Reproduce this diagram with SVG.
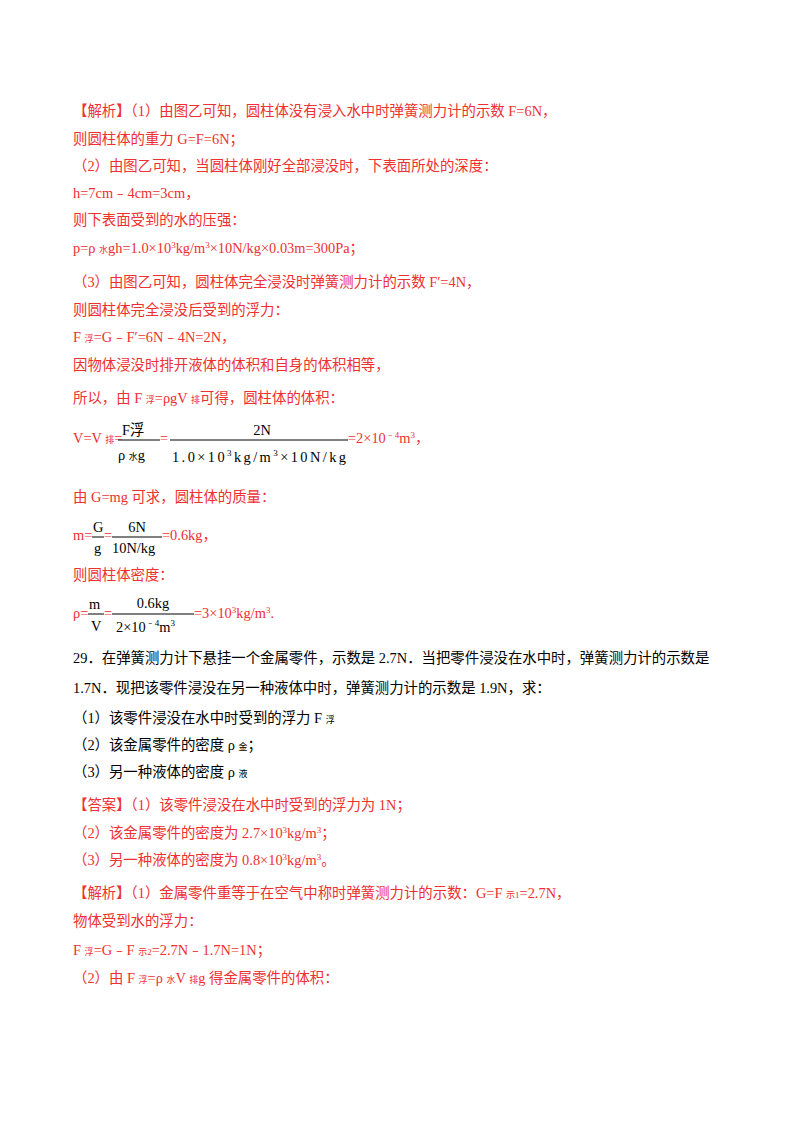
<svg xmlns="http://www.w3.org/2000/svg" width="800" height="1132" viewBox="0 0 800 1132">
<style>
text{font-family:"Liberation Serif","Noto Sans CJK SC",serif;font-size:14.4px}
.r{fill:#ee3030}
.k{fill:#000}
.s{font-size:9px}
.fl{stroke:#000;stroke-width:1}
</style>
<rect width="800" height="1132" fill="#fff"/>
<g id="text">
<text class="r" x="73" y="116">【解析】（1）由图乙可知，圆柱体没有浸入水中时弹簧测力计的示数 F=6N，</text>
<text class="r" x="73" y="144">则圆柱体的重力 G=F=6N；</text>
<text class="r" x="73" y="171">（2）由图乙可知，当圆柱体刚好全部浸没时，下表面所处的深度：</text>
<text class="r" x="73" y="198">h=7cm﹣4cm=3cm，</text>
<text class="r" x="73" y="225">则下表面受到的水的压强：</text>
<text class="r" x="73" y="253">p=ρ <tspan class="s">水</tspan>gh=1.0×10<tspan class="s" dy="-5">3</tspan><tspan dy="5">kg/m</tspan><tspan class="s" dy="-5">3</tspan><tspan dy="5">×10N/kg×0.03m=300Pa；</tspan></text>
<text class="r" x="73" y="287">（3）由图乙可知，圆柱体完全浸没时弹簧测力计的示数 F′=4N，</text>
<text class="r" x="73" y="315">则圆柱体完全浸没后受到的浮力：</text>
<text class="r" x="73" y="342">F <tspan class="s">浮</tspan>=G﹣F′=6N﹣4N=2N，</text>
<text class="r" x="73" y="370">因物体浸没时排开液体的体积和自身的体积相等，</text>
<text class="r" x="73" y="403">所以，由 F <tspan class="s">浮</tspan>=ρgV <tspan class="s">排</tspan>可得，圆柱体的体积：</text>
<text class="r" x="73" y="443">V=V <tspan class="s">排</tspan>=</text>
<line class="fl" x1="118" y1="440" x2="160" y2="440"/>
<text class="k" x="122" y="435">F浮</text>
<text class="k" x="118" y="460">ρ <tspan class="s">水</tspan>g</text>
<text class="r" x="160" y="443">=</text>
<line class="fl" x1="170" y1="440" x2="348" y2="440"/>
<text class="k" x="262" y="435" text-anchor="middle">2N</text>
<text class="k" x="172" y="462" textLength="174">1.0×10<tspan class="s" dy="-6">3</tspan><tspan dy="6">kg/m</tspan><tspan class="s" dy="-6">3</tspan><tspan dy="6">×10N/kg</tspan></text>
<text class="r" x="348" y="443">=2×10<tspan class="s" dy="-5">﹣4</tspan><tspan dy="5">m</tspan><tspan class="s" dy="-5">3</tspan><tspan dy="5">，</tspan></text>
<text class="r" x="73" y="502">由 G=mg 可求，圆柱体的质量：</text>
<text class="r" x="73" y="540">m=</text>
<line class="fl" x1="92" y1="537" x2="104" y2="537"/>
<text class="k" x="93" y="532">G</text>
<text class="k" x="94" y="553">g</text>
<text class="r" x="104" y="540">=</text>
<line class="fl" x1="112" y1="537" x2="162" y2="537"/>
<text class="k" x="137" y="532" text-anchor="middle">6N</text>
<text class="k" x="112" y="553">10N/kg</text>
<text class="r" x="162" y="540">=0.6kg，</text>
<text class="r" x="73" y="580">则圆柱体密度：</text>
<text class="r" x="73" y="618">ρ=</text>
<line class="fl" x1="88" y1="614" x2="104" y2="614"/>
<text class="k" x="89" y="609">m</text>
<text class="k" x="91" y="631">V</text>
<text class="r" x="104" y="618">=</text>
<line class="fl" x1="112" y1="614" x2="194" y2="614"/>
<text class="k" x="153" y="608" text-anchor="middle">0.6kg</text>
<text class="k" x="116" y="632">2×10<tspan class="s" dy="-6">﹣4</tspan><tspan dy="6">m</tspan><tspan class="s" dy="-6">3</tspan></text>
<text class="r" x="194" y="618">=3×10<tspan class="s" dy="-5">3</tspan><tspan dy="5">kg/m</tspan><tspan class="s" dy="-5">3</tspan><tspan dy="5">.</tspan></text>
<text class="k" x="73" y="663">29．在弹簧测力计下悬挂一个金属零件，示数是 2.7N．当把零件浸没在水中时，弹簧测力计的示数是</text>
<text class="k" x="73" y="693">1.7N．现把该零件浸没在另一种液体中时，弹簧测力计的示数是 1.9N，求：</text>
<text class="k" x="73" y="723">（1）该零件浸没在水中时受到的浮力 F <tspan class="s">浮</tspan></text>
<text class="k" x="73" y="750">（2）该金属零件的密度 ρ <tspan class="s">金</tspan>；</text>
<text class="k" x="73" y="777">（3）另一种液体的密度 ρ <tspan class="s">液</tspan></text>
<text class="r" x="73" y="810">【答案】（1）该零件浸没在水中时受到的浮力为 1N；</text>
<text class="r" x="73" y="838">（2）该金属零件的密度为 2.7×10<tspan class="s" dy="-5">3</tspan><tspan dy="5">kg/m</tspan><tspan class="s" dy="-5">3</tspan><tspan dy="5">；</tspan></text>
<text class="r" x="73" y="865">（3）另一种液体的密度为 0.8×10<tspan class="s" dy="-5">3</tspan><tspan dy="5">kg/m</tspan><tspan class="s" dy="-5">3</tspan><tspan dy="5">。</tspan></text>
<text class="r" x="73" y="898">【解析】（1）金属零件重等于在空气中称时弹簧测力计的示数：G=F <tspan class="s">示1</tspan>=2.7N，</text>
<text class="r" x="73" y="926">物体受到水的浮力：</text>
<text class="r" x="73" y="955">F <tspan class="s">浮</tspan>=G﹣F <tspan class="s">示2</tspan>=2.7N﹣1.7N=1N；</text>
<text class="r" x="73" y="983">（2）由 F <tspan class="s">浮</tspan>=ρ <tspan class="s">水</tspan>V <tspan class="s">排</tspan>g 得金属零件的体积：</text>
</g>
</svg>
